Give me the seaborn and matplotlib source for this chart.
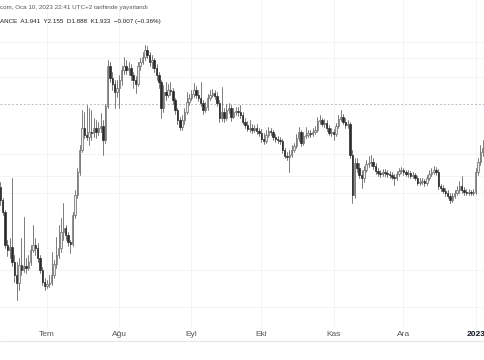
import pandas as pd
import seaborn as sns
import matplotlib
matplotlib.use("Agg")
import matplotlib.pyplot as plt

# daily candles (11 Jun 2022 -> 4 Jan 2023)
opens = [1.515, 1.450, 1.390, 1.225, 1.200, 1.215, 1.140, 1.075, 1.035, 1.125,
         1.100, 1.120, 1.110, 1.140, 1.200, 1.225, 1.210, 1.160, 1.100, 1.040,
         1.020, 1.030, 1.035, 1.075, 1.130, 1.175, 1.210, 1.290, 1.310, 1.275,
         1.240, 1.230, 1.375, 1.475, 1.590, 1.700, 1.810, 1.775, 1.765, 1.790,
         1.785, 1.810, 1.790, 1.810, 1.820, 1.750, 1.920, 2.120, 2.060, 2.030,
         1.990, 2.010, 2.050, 2.100, 2.120, 2.100, 2.110, 2.075, 2.050, 2.030,
         2.120, 2.140, 2.165, 2.200, 2.175, 2.140, 2.150, 2.110, 2.075, 2.040,
         1.910, 1.990, 1.975, 2.000, 1.995, 1.950, 1.900, 1.850, 1.815, 1.850,
         1.890, 1.940, 1.960, 1.980, 2.000, 1.975, 1.960, 1.935, 1.900, 1.915,
         1.960, 1.975, 1.985, 1.970, 1.935, 1.860, 1.890, 1.860, 1.900, 1.910,
         1.865, 1.890, 1.895, 1.890, 1.875, 1.840, 1.825, 1.805, 1.810, 1.800,
         1.810, 1.795, 1.785, 1.755, 1.745, 1.775, 1.795, 1.790, 1.765, 1.755,
         1.750, 1.745, 1.700, 1.670, 1.665, 1.675, 1.700, 1.720, 1.760, 1.790,
         1.735, 1.770, 1.775, 1.785, 1.780, 1.790, 1.800, 1.845, 1.850, 1.830,
         1.835, 1.810, 1.785, 1.790, 1.780, 1.820, 1.855, 1.865, 1.840, 1.825,
         1.830, 1.675, 1.475, 1.635, 1.610, 1.575, 1.560, 1.600, 1.630, 1.635,
         1.640, 1.620, 1.595, 1.585, 1.580, 1.590, 1.585, 1.580, 1.575, 1.565,
         1.560, 1.580, 1.595, 1.600, 1.590, 1.580, 1.585, 1.570, 1.575, 1.560,
         1.535, 1.540, 1.545, 1.535, 1.560, 1.580, 1.590, 1.600, 1.590, 1.520,
         1.510, 1.495, 1.485, 1.470, 1.450, 1.470, 1.485, 1.500, 1.520, 1.500,
         1.490, 1.485, 1.490, 1.485, 1.490, 1.590, 1.640, 1.690]
highs = [1.540, 1.460, 1.400, 1.250, 1.260, 1.560, 1.175, 1.140, 1.160, 1.260,
         1.365, 1.160, 1.175, 1.225, 1.325, 1.260, 1.235, 1.175, 1.115, 1.060,
         1.050, 1.075, 1.190, 1.150, 1.265, 1.325, 1.360, 1.435, 1.325, 1.290,
         1.250, 1.390, 1.500, 1.610, 1.725, 1.900, 1.890, 1.925, 1.910, 1.900,
         1.860, 1.850, 1.840, 1.885, 1.850, 1.930, 2.150, 2.140, 2.090, 2.050,
         2.050, 2.075, 2.120, 2.165, 2.150, 2.140, 2.130, 2.090, 2.070, 2.140,
         2.160, 2.190, 2.225, 2.220, 2.190, 2.175, 2.160, 2.130, 2.090, 2.050,
         2.025, 2.040, 2.030, 2.040, 2.010, 1.960, 1.910, 1.865, 1.875, 1.910,
         1.990, 1.980, 2.000, 2.035, 2.020, 2.000, 2.040, 1.950, 1.940, 1.980,
         2.000, 2.005, 2.000, 1.990, 1.950, 2.015, 1.910, 1.930, 1.935, 1.925,
         1.910, 1.915, 1.915, 1.925, 1.890, 1.860, 1.845, 1.850, 1.830, 1.825,
         1.830, 1.810, 1.805, 1.785, 1.800, 1.815, 1.810, 1.800, 1.780, 1.770,
         1.765, 1.755, 1.710, 1.690, 1.700, 1.725, 1.735, 1.780, 1.815, 1.800,
         1.790, 1.815, 1.800, 1.800, 1.810, 1.820, 1.865, 1.875, 1.860, 1.855,
         1.850, 1.825, 1.810, 1.805, 1.835, 1.875, 1.900, 1.880, 1.860, 1.850,
         1.840, 1.700, 1.660, 1.660, 1.635, 1.600, 1.620, 1.650, 1.670, 1.675,
         1.660, 1.635, 1.610, 1.600, 1.605, 1.605, 1.600, 1.595, 1.590, 1.580,
         1.595, 1.610, 1.615, 1.610, 1.600, 1.600, 1.595, 1.590, 1.585, 1.570,
         1.560, 1.560, 1.555, 1.575, 1.600, 1.610, 1.620, 1.615, 1.605, 1.530,
         1.525, 1.510, 1.500, 1.485, 1.485, 1.500, 1.520, 1.545, 1.570, 1.515,
         1.505, 1.505, 1.500, 1.505, 1.610, 1.660, 1.725, 1.750]
lows = [1.425, 1.375, 1.210, 1.170, 1.160, 1.120, 1.040, 0.950, 1.000, 1.075,
        1.090, 1.085, 1.100, 1.125, 1.190, 1.175, 1.140, 1.085, 1.025, 1.000,
        1.010, 1.015, 1.025, 1.060, 1.110, 1.160, 1.190, 1.250, 1.250, 1.220,
        1.185, 1.220, 1.360, 1.460, 1.575, 1.690, 1.760, 1.750, 1.725, 1.750,
        1.765, 1.760, 1.775, 1.790, 1.675, 1.735, 1.910, 2.040, 2.000, 1.910,
        1.965, 1.910, 2.025, 2.080, 2.080, 2.075, 2.050, 2.010, 1.985, 2.020,
        2.100, 2.130, 2.150, 2.160, 2.120, 2.110, 2.090, 2.050, 2.010, 1.860,
        1.890, 1.950, 1.965, 1.975, 1.930, 1.880, 1.830, 1.800, 1.800, 1.830,
        1.880, 1.925, 1.950, 1.965, 1.960, 1.945, 1.920, 1.880, 1.890, 1.900,
        1.950, 1.965, 1.955, 1.920, 1.840, 1.845, 1.840, 1.850, 1.885, 1.845,
        1.860, 1.875, 1.870, 1.860, 1.830, 1.810, 1.795, 1.790, 1.785, 1.790,
        1.780, 1.770, 1.740, 1.730, 1.735, 1.765, 1.775, 1.750, 1.740, 1.735,
        1.730, 1.685, 1.660, 1.650, 1.590, 1.665, 1.690, 1.710, 1.745, 1.720,
        1.725, 1.760, 1.765, 1.765, 1.770, 1.780, 1.790, 1.830, 1.820, 1.815,
        1.795, 1.775, 1.770, 1.750, 1.770, 1.810, 1.845, 1.830, 1.810, 1.810,
        1.660, 1.435, 1.460, 1.590, 1.560, 1.510, 1.540, 1.590, 1.615, 1.620,
        1.605, 1.580, 1.570, 1.565, 1.570, 1.570, 1.565, 1.560, 1.555, 1.525,
        1.550, 1.570, 1.585, 1.575, 1.570, 1.565, 1.560, 1.560, 1.550, 1.525,
        1.525, 1.530, 1.520, 1.525, 1.550, 1.570, 1.580, 1.575, 1.505, 1.495,
        1.485, 1.470, 1.460, 1.435, 1.440, 1.460, 1.475, 1.485, 1.485, 1.475,
        1.475, 1.475, 1.475, 1.475, 1.480, 1.575, 1.625, 1.670]
closes = [1.450, 1.390, 1.225, 1.200, 1.215, 1.140, 1.075, 1.035, 1.125, 1.100,
          1.120, 1.110, 1.140, 1.200, 1.225, 1.210, 1.160, 1.100, 1.040, 1.020,
          1.030, 1.035, 1.075, 1.130, 1.175, 1.210, 1.290, 1.310, 1.275, 1.240,
          1.230, 1.375, 1.475, 1.590, 1.700, 1.810, 1.775, 1.765, 1.790, 1.785,
          1.810, 1.790, 1.810, 1.820, 1.750, 1.920, 2.120, 2.060, 2.030, 1.990,
          2.010, 2.050, 2.100, 2.120, 2.100, 2.110, 2.075, 2.050, 2.030, 2.120,
          2.140, 2.165, 2.200, 2.175, 2.140, 2.150, 2.110, 2.075, 2.040, 1.910,
          1.990, 1.975, 2.000, 1.995, 1.950, 1.900, 1.850, 1.815, 1.850, 1.890,
          1.940, 1.960, 1.980, 2.000, 1.975, 1.960, 1.935, 1.900, 1.915, 1.960,
          1.975, 1.985, 1.970, 1.935, 1.860, 1.890, 1.860, 1.900, 1.910, 1.865,
          1.890, 1.895, 1.890, 1.875, 1.840, 1.825, 1.805, 1.810, 1.800, 1.810,
          1.795, 1.785, 1.755, 1.745, 1.775, 1.795, 1.790, 1.765, 1.755, 1.750,
          1.745, 1.700, 1.670, 1.665, 1.675, 1.700, 1.720, 1.760, 1.790, 1.735,
          1.770, 1.775, 1.785, 1.780, 1.790, 1.800, 1.845, 1.850, 1.830, 1.835,
          1.810, 1.785, 1.790, 1.780, 1.820, 1.855, 1.865, 1.840, 1.825, 1.830,
          1.675, 1.475, 1.635, 1.610, 1.575, 1.560, 1.600, 1.630, 1.635, 1.640,
          1.620, 1.595, 1.585, 1.580, 1.590, 1.585, 1.580, 1.575, 1.565, 1.560,
          1.580, 1.595, 1.600, 1.590, 1.580, 1.585, 1.570, 1.575, 1.560, 1.535,
          1.540, 1.545, 1.535, 1.560, 1.580, 1.590, 1.600, 1.590, 1.520, 1.510,
          1.495, 1.485, 1.470, 1.450, 1.470, 1.485, 1.500, 1.520, 1.500, 1.490,
          1.485, 1.490, 1.485, 1.490, 1.590, 1.640, 1.690, 1.710]

month_starts = ["2022-07-01", "2022-08-01", "2022-09-01", "2022-10-01",
                "2022-11-01", "2022-12-01", "2023-01-01"]
month_labels = ["Tem", "Ağu", "Eyl", "Eki", "Kas", "Ara", "2023"]
grid_levels = [2.24, 2.16, 2.065, 1.68, 1.57, 1.485, 1.10, 0.915]
last_price = 1.930

header1 = "com, Oca 10, 2023 22:41 UTC+2 tarihinde yayınlandı"
header2 = "ANCE  A1.941  Y2.155  D1.888  K1.933  \u22120.007 (\u22120.36%)"

days = pd.date_range("2022-06-11", periods=len(closes), freq="D")
df = pd.DataFrame({"date": days, "open": opens, "high": highs,
                   "low": lows, "close": closes})
df["up"] = df["close"] >= df["open"]

sns.set_theme(style="white")
plt.rcParams["font.family"] = ["Liberation Sans", "DejaVu Sans"]

fig = plt.figure(figsize=(4.85, 3.6), dpi=100)
ax = fig.add_axes([0, 33 / 360, 1, 327 / 360])

# wicks: one vertical segment per day
wicks = pd.concat([
    df[["date", "low"]].rename(columns={"low": "price"}),
    df[["date", "high"]].rename(columns={"high": "price"}),
])
sns.lineplot(data=wicks, x="date", y="price", units="date", estimator=None,
             sort=False, color="#666666", lw=0.6, ax=ax, zorder=2)

up = df[df["up"]]
dn = df[~df["up"]]
ax.bar(up["date"], up["close"] - up["open"], bottom=up["open"], width=0.62,
       color="#eeeeee", edgecolor="#666666", linewidth=0.5, zorder=3)
ax.bar(dn["date"], dn["close"] - dn["open"], bottom=dn["open"], width=0.62,
       color="#2a2a2a", edgecolor="#2a2a2a", linewidth=0.5, zorder=3)

ax.axhline(last_price, color="#b8bbc2", ls=(0, (2, 2)), lw=0.7, zorder=1)

ax.set_xlim(days[0] - pd.Timedelta(hours=4), days[0] + pd.Timedelta(days=207.98))
ax.set_ylim(0.815, 2.45)
ax.set_xticks(pd.to_datetime(month_starts))
ax.set_xticklabels(month_labels)
ax.set_yticks(grid_levels)
ax.grid(True, color="#f3f3f3", lw=0.7, zorder=0)
ax.tick_params(axis="y", left=False, labelleft=False)
ax.tick_params(axis="x", length=0, pad=3, labelsize=6, labelcolor="#555555")
ax.get_xticklabels()[-1].set_color("#131722")
ax.get_xticklabels()[-1].set_fontweight("bold")
ax.set_xlabel("")
ax.set_ylabel("")
for s in ax.spines.values():
    s.set_visible(False)

fig.add_artist(plt.Line2D([0, 1], [19 / 360, 19 / 360], color="#e6e6e6", lw=0.8))

fig.text(0.0, 1 - 8 / 360, header1, fontsize=4.5, color="#555555", va="center")
fig.text(0.0, 1 - 22 / 360, header2, fontsize=4.5, color="#1e1e1e", va="center")

fig.savefig("out.png", dpi=100, facecolor="white")
